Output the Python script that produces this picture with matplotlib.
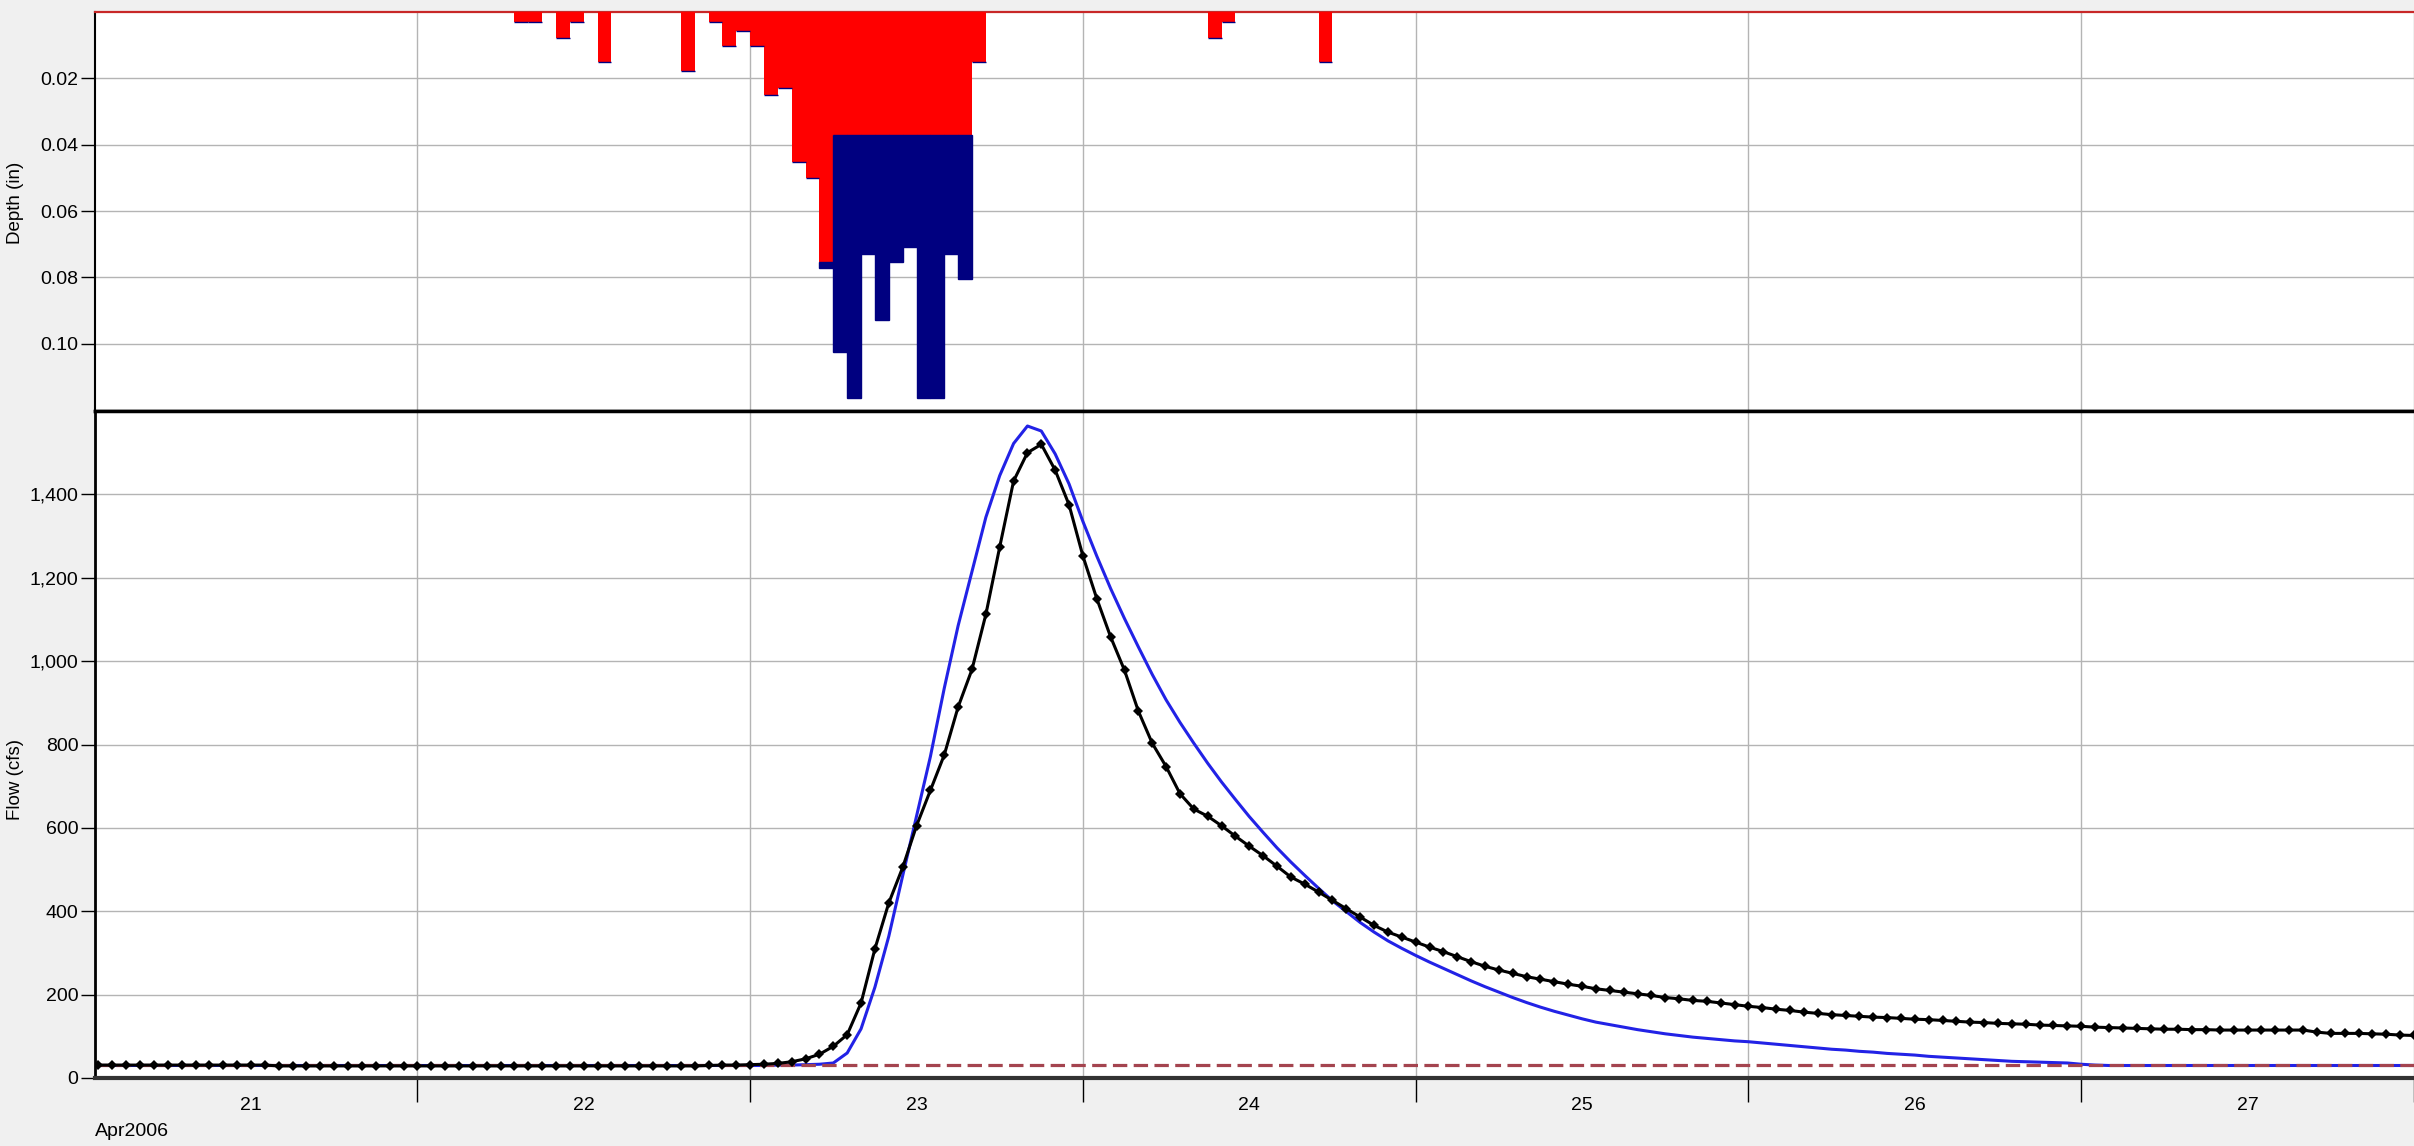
import numpy as np
import pandas as pd
import matplotlib
matplotlib.use('Agg')
import matplotlib.pyplot as plt
import matplotlib.dates as mdates
from matplotlib.ticker import FuncFormatter, NullFormatter, FixedLocator

plt.rcParams['font.family'] = ['Liberation Sans', 'DejaVu Sans']

# hourly time stamps, Apr 21 01:00 .. Apr 28 00:00
times = pd.date_range('2006-04-21 01:00', periods=168, freq='h')

# observed flow (cfs), hourly
obs_flow = [31, 31, 31, 31, 31, 31, 31, 31, 31, 31, 31, 31, 31,
            29, 29, 29, 29, 29, 29, 29, 29, 29, 29, 29, 29, 29, 29, 29, 29,
            29, 29, 29, 29, 29, 29, 29, 29, 29, 29, 29, 29, 29, 29, 29,
            30, 31, 31, 32,
            33, 35, 39, 46, 57, 76, 104, 180, 310, 420, 505, 605,
            690, 775, 890, 980, 1112, 1274, 1432, 1500, 1520, 1458, 1375, 1252,
            1150, 1058, 978, 880, 803, 747, 682, 645, 628, 605, 580, 556,
            533, 508, 482, 465, 446, 426, 406, 386, 366, 350, 338, 326,
            314, 303, 291, 279, 268, 259, 251, 243, 237, 231, 225, 220,
            214, 210, 206, 202, 198, 193, 190, 186, 184, 180, 176, 172,
            169, 165, 162, 158, 155, 152, 150, 148, 146, 145, 143, 141,
            140, 138, 136, 134, 133, 131, 130, 129, 127, 126, 125, 124,
            122, 121, 120, 119, 118, 117, 117, 116, 116, 115, 115, 115,
            115, 115, 115, 115, 110, 107, 107, 107, 106, 105, 103, 102]

# simulated flow (cfs), hourly
sim_flow = [30, 30, 30, 30, 30, 30, 30, 30, 30, 30, 30, 30,
            30, 30, 30, 30, 30, 30, 30, 30, 30, 30, 30, 30,
            30, 30, 30, 30, 30, 30, 30, 30, 30, 30, 30, 30,
            30, 30, 30, 30, 30, 30, 30, 30, 30, 30, 30, 30,
            30, 31, 31, 32, 33,
            36, 60, 118, 218, 340, 485, 628, 771, 935, 1085, 1215, 1345,
            1445, 1522, 1564, 1552, 1497, 1425, 1335, 1252, 1174, 1102, 1034, 968,
            907, 853, 803, 755, 710, 668, 627, 589, 552, 518, 486, 455,
            425, 399, 373, 350, 329, 311, 294, 278, 263, 248, 233, 219,
            206, 193, 181, 170, 160, 151, 142, 134, 128, 122, 116, 111,
            106, 102, 98, 95, 92, 89, 87, 84, 81, 78, 75, 72,
            69, 67, 64, 62, 59, 57, 55, 52, 50, 48, 46, 44,
            42, 40, 39, 38, 37, 36, 33, 31, 30, 30, 30, 30,
            30, 30, 30, 30, 30, 30, 30, 30, 30, 30, 30, 30,
            30, 30, 30, 30, 30, 30, 30]

baseflow = 30

# hourly precipitation: loss (red) and excess (blue), inches
rain_start = pd.to_datetime([
    '2006-04-22 07:00', '2006-04-22 08:00', '2006-04-22 10:00', '2006-04-22 11:00',
    '2006-04-22 13:00', '2006-04-22 19:00', '2006-04-22 21:00', '2006-04-22 22:00',
    '2006-04-22 23:00', '2006-04-23 00:00', '2006-04-23 01:00', '2006-04-23 02:00',
    '2006-04-23 03:00', '2006-04-23 04:00', '2006-04-23 05:00', '2006-04-23 06:00',
    '2006-04-23 07:00', '2006-04-23 08:00', '2006-04-23 09:00', '2006-04-23 10:00',
    '2006-04-23 11:00', '2006-04-23 12:00', '2006-04-23 13:00', '2006-04-23 14:00',
    '2006-04-23 15:00', '2006-04-23 16:00', '2006-04-24 09:00', '2006-04-24 10:00',
    '2006-04-24 17:00'])
rain_loss = [0.003, 0.003, 0.0077, 0.003, 0.015, 0.0178, 0.003, 0.0103,
             0.0056, 0.0103, 0.025, 0.023, 0.0453, 0.0499, 0.0755, 0.0371,
             0.0371, 0.0371, 0.0371, 0.0371, 0.0371, 0.0371, 0.0371, 0.0371,
             0.0371, 0.015, 0.0077, 0.003, 0.015]
rain_excess = [0, 0, 0, 0, 0, 0, 0, 0,
               0, 0, 0, 0, 0, 0, 0.0018, 0.0653,
               0.0793, 0.0359, 0.0559, 0.0382, 0.0337, 0.0793, 0.0793, 0.0359,
               0.0433, 0, 0, 0, 0]

depth_ticks = [0.02, 0.04, 0.06, 0.08, 0.10]
flow_ticks = [0, 200, 400, 600, 800, 1000, 1200, 1400]

W, H = 2414, 1146
fig = plt.figure(figsize=(W / 100, H / 100), dpi=100, facecolor='#f0f0f0')
left = 95 / W
ax1 = fig.add_axes([left, 1 - 411 / H, 1 - left, (411 - 12) / H])
ax2 = fig.add_axes([left, 1 - 1078 / H, 1 - left, (1078 - 411) / H], sharex=ax1)

gridc = '#b4b4b4'

# precipitation panel
ax1.bar(rain_start, rain_loss, width=1 / 24, align='edge', color='#ff0000', linewidth=0, zorder=3)
ax1.bar(rain_start, rain_excess, width=1 / 24, bottom=rain_loss, align='edge',
        color='#000080', edgecolor='#000080', linewidth=1, zorder=3)
ax1.set_ylim(0.1203, 0)
ax1.yaxis.set_major_locator(FixedLocator(depth_ticks))
ax1.yaxis.set_major_formatter(FuncFormatter(lambda v, p: '%.2f' % v))
ax1.grid(True, which='major', color=gridc, lw=1, zorder=0)
ax1.tick_params(axis='x', which='both', length=0, labelbottom=False)
ax1.tick_params(axis='y', length=10, width=1, pad=2, labelsize=14)
ax1.spines['right'].set_visible(False)
ax1.spines['top'].set_color('#c82828')
ax1.spines['top'].set_linewidth(1.6)
ax1.spines['left'].set_linewidth(1.5)
ax1.spines['bottom'].set_linewidth(2.5)

# flow panel
ax2.axhline(baseflow, color='#a4444f', lw=2.3, ls=(0, (4.5, 2)), zorder=5)
ax2.plot(times, sim_flow, color='#2222e6', lw=2.2, zorder=4)
ax2.plot(times, obs_flow, color='black', lw=2.2, marker='D', ms=5.2, mew=0, zorder=6)
ax2.set_ylim(0, 1600)
ax2.yaxis.set_major_locator(FixedLocator(flow_ticks))
ax2.yaxis.set_major_formatter(FuncFormatter(lambda v, p: '{:,.0f}'.format(v)))
ax2.grid(True, which='major', color=gridc, lw=1, zorder=0)
ax2.tick_params(axis='y', length=10, width=1, pad=2, labelsize=14)

ax2.set_xlim(pd.Timestamp('2006-04-21 00:45'), pd.Timestamp('2006-04-28 00:00'))
ax2.xaxis.set_major_locator(mdates.DayLocator())
ax2.xaxis.set_major_formatter(NullFormatter())
ax2.xaxis.set_minor_locator(mdates.HourLocator(byhour=12))
ax2.xaxis.set_minor_formatter(mdates.DateFormatter('%d'))
ax2.tick_params(axis='x', which='major', length=17, width=1, direction='out')
ax2.tick_params(axis='x', which='minor', length=0, pad=14, labelsize=14)
ax2.spines['right'].set_visible(False)
ax2.spines['top'].set_linewidth(2.5)
ax2.spines['left'].set_linewidth(2)
ax2.spines['bottom'].set_linewidth(3)
ax2.spines['bottom'].set_color('#333333')

fig.text(16 / W, 1 - 203 / H, 'Depth (in)', rotation=90, ha='center', va='center', fontsize=13.5)
fig.text(16 / W, 1 - 780 / H, 'Flow (cfs)', rotation=90, ha='center', va='center', fontsize=13.5)
fig.text(95 / W, 1 - 1131 / H, 'Apr2006', ha='left', va='center', fontsize=14)

fig.savefig('out.png', dpi=100, facecolor=fig.get_facecolor())
